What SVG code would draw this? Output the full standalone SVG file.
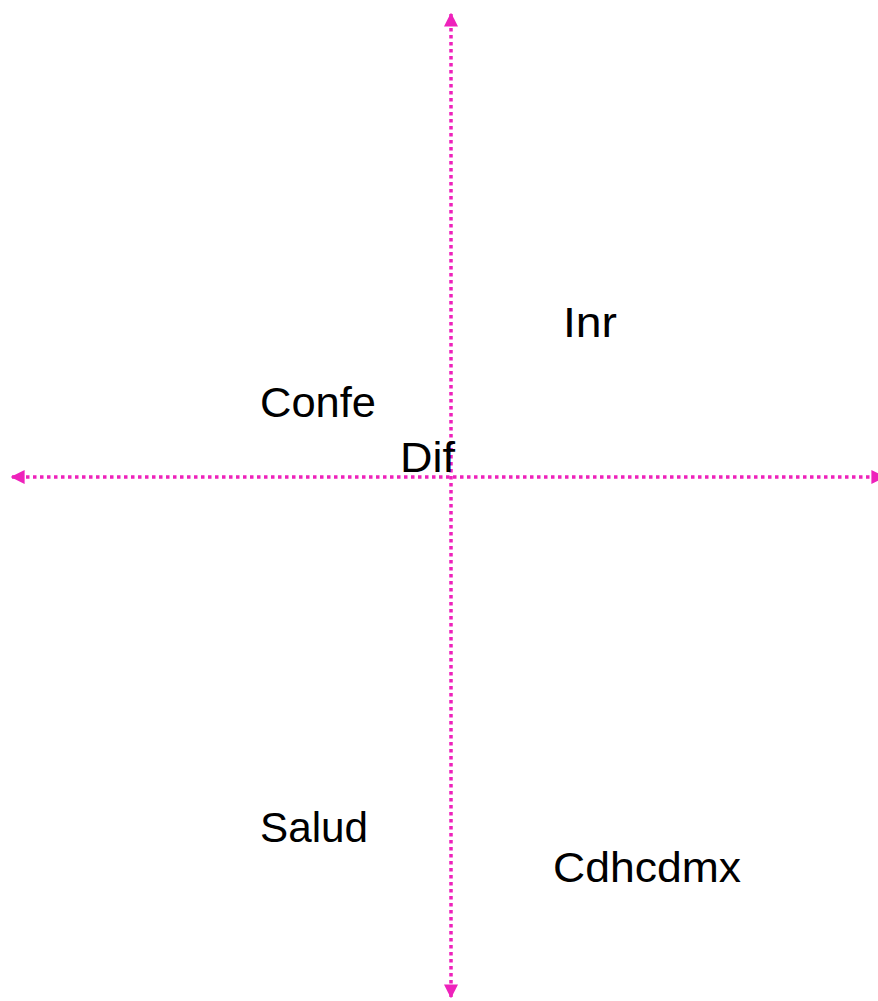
<svg xmlns="http://www.w3.org/2000/svg" width="878" height="1001" viewBox="0 0 878 1001">
<style>
.ax{stroke:#EE22BB;stroke-width:3.5;stroke-dasharray:3.5 3.5;fill:none}
.lbl{font-family:"Liberation Sans","Open Sans",sans-serif;font-size:43px;fill:#000}
</style>
<defs>
<marker id="ah" viewBox="0 0 10 10" refX="9" refY="5" markerWidth="4" markerHeight="4" orient="auto-start-reverse" markerUnits="strokeWidth">
<path d="M0,0 L10,5 L0,10 Z" fill="#EE22BB"/>
</marker>
</defs>
<rect width="878" height="1001" fill="#fff"/>
<g id="connectors">
<line class="ax" x1="451" y1="14" x2="451" y2="997" marker-end="url(#ah)" marker-start="url(#ah)"/>
<line class="ax" x1="12" y1="477" x2="884" y2="477" marker-end="url(#ah)" marker-start="url(#ah)"/>
</g>
<g id="inr"><text class="lbl" x="563" y="337" textLength="54" lengthAdjust="spacingAndGlyphs">Inr</text></g>
<g id="confe"><text class="lbl" x="260" y="417" textLength="116" lengthAdjust="spacingAndGlyphs">Confe</text></g>
<g id="dif"><text class="lbl" x="400" y="472" textLength="55" lengthAdjust="spacingAndGlyphs">Dif</text></g>
<g id="salud"><text class="lbl" x="260" y="842" textLength="108" lengthAdjust="spacingAndGlyphs">Salud</text></g>
<g id="cdhcdmx"><text class="lbl" x="553" y="882" textLength="188" lengthAdjust="spacingAndGlyphs">Cdhcdmx</text></g>
</svg>
